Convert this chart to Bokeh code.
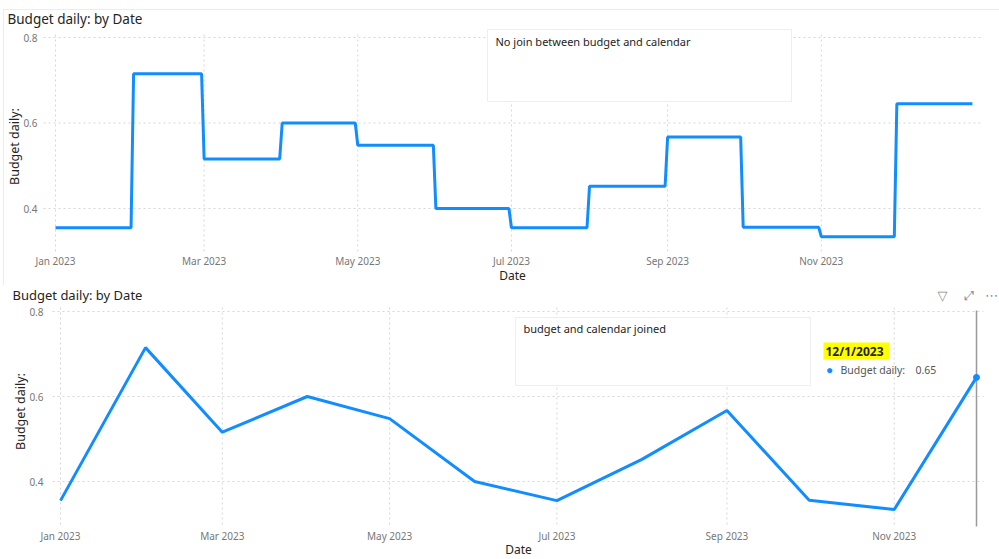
import math
import pandas as pd
from bokeh.plotting import figure
from bokeh.models import (Range1d, FixedTicker, DatetimeTickFormatter, Label,
                          BoxAnnotation, ColumnDataSource)
from bokeh.layouts import column
from bokeh.embed import file_html
from bokeh.resources import INLINE

# ---------------- data ----------------
month_starts = ["2023-01-01", "2023-02-01", "2023-03-01", "2023-04-01",
                "2023-05-01", "2023-06-01", "2023-07-01", "2023-08-01",
                "2023-09-01", "2023-10-01", "2023-11-01", "2023-12-01"]
budget_daily = [0.355, 0.715, 0.516, 0.600, 0.548, 0.400,
                0.355, 0.452, 0.567, 0.356, 0.334, 0.645]
tick_dates = ["2023-01-01", "2023-03-01", "2023-05-01",
              "2023-07-01", "2023-09-01", "2023-11-01"]
y_ticks = [0.4, 0.6, 0.8]
title_text = "Budget daily: by Date"
x_title = "Date"
y_title = "Budget daily:"
box_top_text = "No join between budget and calendar"
box_bottom_text = "budget and calendar joined"
tooltip_date = "12/1/2023"
tooltip_label = "Budget daily:"
tooltip_value = "0.65"

# daily series (no join): each day carries its month's budget
days = pd.date_range("2023-01-01", "2023-12-31", freq="D")
month_lookup = dict(zip(pd.to_datetime(month_starts).month, budget_daily))
daily_vals = [month_lookup[d.month] for d in days]

DAY = 86400000.0
FONT = "Noto Sans"
BLUE = "#118DFF"
GRID = "#d6d6d6"
W = 999
SPLIT = 285


def ms(s):
    return pd.Timestamp(s).value / 1e6


JAN1 = ms("2023-01-01")
tick_ms = [ms(t) for t in tick_dates]


def make_fig(fx, fy, top, bottom):
    p = figure(width=W, height=bottom - top, x_axis_type="datetime",
               x_range=Range1d(fx(0), fx(W)), y_range=Range1d(fy(bottom), fy(top)),
               output_backend="svg", toolbar_location=None,
               min_border_left=0, min_border_right=0, min_border_top=0,
               min_border_bottom=0)
    p.outline_line_color = None
    p.background_fill_color = "white"
    p.border_fill_color = "white"
    p.xgrid.visible = False
    p.ygrid.visible = False
    for ax in (p.xaxis, p.yaxis):
        ax.axis_line_color = None
        ax.major_tick_line_color = None
        ax.minor_tick_line_color = None
        ax.major_tick_out = 0
        ax.minor_tick_out = 0
        ax.major_tick_in = 0
        ax.minor_tick_in = 0
        ax.major_label_text_font = FONT
        ax.major_label_text_font_size = "10px"
        ax.major_label_text_color = "#777777"
    p.xaxis.ticker = FixedTicker(ticks=tick_ms)
    fmt = "%b %Y"
    p.xaxis.formatter = DatetimeTickFormatter(
        milliseconds=fmt, seconds=fmt, minsec=fmt, minutes=fmt, hourmin=fmt,
        hours=fmt, days=fmt, months=fmt, years=fmt)
    p.yaxis.ticker = FixedTicker(ticks=y_ticks)
    return p


def add_grid(p, fx, fy, left, right, gtop, gbottom):
    p.segment(x0=[fx(left)] * len(y_ticks), x1=[fx(right)] * len(y_ticks),
              y0=y_ticks, y1=y_ticks, line_color=GRID, line_dash="2 3", line_width=1)
    p.segment(x0=tick_ms, x1=tick_ms, y0=[fy(gbottom)] * len(tick_ms),
              y1=[fy(gtop)] * len(tick_ms), line_color=GRID, line_dash="2 3",
              line_width=1)


def add_text(p, x, y, text, size, color="#252423", style="normal", align="left",
             baseline="middle", angle=0.0, font=FONT, **kw):
    p.add_layout(Label(x=x, y=y, text=text, text_font=font, text_font_size=size,
                       text_color=color, text_font_style=style, text_align=align,
                       text_baseline=baseline, angle=angle, **kw))


# ---------------- top chart (page y 0..SPLIT) ----------------
def tx(px):
    return JAN1 + (px - 55) / 2.519 * DAY


def ty(py):
    return 0.8 - (py - 37) / 427.5


p1 = make_fig(tx, ty, 0, SPLIT)
# faint visual container edges
p1.segment(x0=[tx(3)], x1=[tx(999)], y0=[ty(9)], y1=[ty(9)],
           line_color="#ececec", line_width=1)
p1.segment(x0=[tx(3)], x1=[tx(3)], y0=[ty(9)], y1=[ty(SPLIT)],
           line_color="#ececec", line_width=1)
add_grid(p1, tx, ty, 43, 981, 34, 251)
p1.xaxis.fixed_location = ty(243)
p1.xaxis.major_label_standoff = 10
p1.yaxis.fixed_location = tx(43)
p1.yaxis.major_label_standoff = 6

src1 = ColumnDataSource(dict(x=days, y=daily_vals))
p1.line("x", "y", source=src1, line_color=BLUE, line_width=3)

add_text(p1, tx(7), ty(18), title_text, "13.5px")
add_text(p1, tx(512), ty(275), x_title, "12px", align="center")
add_text(p1, tx(14), ty(146), y_title, "12.5px", align="center", angle=math.pi / 2)

p1.add_layout(BoxAnnotation(left=tx(487), right=tx(791), top=ty(29), bottom=ty(101),
                            fill_color="white", fill_alpha=1.0,
                            line_color="#c8c8c8", line_width=1))
add_text(p1, tx(495), ty(41), box_top_text, "11px")


# ---------------- bottom chart (page y SPLIT..559) ----------------
def bx(px):
    return JAN1 + (px - 60) / 2.7425 * DAY


def by(py):
    return 0.8 - (py - 311) / 425.0


p2 = make_fig(bx, by, SPLIT, 559)
add_grid(p2, bx, by, 52, 983, 306, 524)
p2.xaxis.fixed_location = by(524)
p2.xaxis.major_label_standoff = 4
p2.yaxis.fixed_location = bx(52)
p2.yaxis.major_label_standoff = 9

src2 = ColumnDataSource(dict(x=pd.to_datetime(month_starts), y=budget_daily))
p2.line("x", "y", source=src2, line_color=BLUE, line_width=3)

add_text(p2, bx(12), by(294), title_text, "13px")
add_text(p2, bx(518), by(549), x_title, "12px", align="center")
add_text(p2, bx(20), by(411), y_title, "12.5px", align="center", angle=math.pi / 2)

# hover crosshair and highlighted point at the last month
last_x = [pd.Timestamp(month_starts[-1])]
p2.segment(x0=last_x, x1=last_x, y0=[by(310)], y1=[by(526)],
           line_color="#9a9a9a", line_width=1.5)
p2.scatter(x=last_x, y=[budget_daily[-1]], size=6, fill_color=BLUE, line_color=BLUE)

p2.add_layout(BoxAnnotation(left=bx(515), right=bx(810), top=by(317), bottom=by(385),
                            fill_color="white", fill_alpha=1.0,
                            line_color="#c8c8c8", line_width=1))
add_text(p2, bx(523), by(328), box_bottom_text, "11px")

# tooltip
p2.add_layout(BoxAnnotation(left=bx(823), right=bx(889), top=by(342), bottom=by(359),
                            fill_color="#ffff00", fill_alpha=1.0, line_color=None))
add_text(p2, bx(825), by(351), tooltip_date, "12px", style="bold")
add_text(p2, bx(829), by(369), "\u25CF", "12px", color=BLUE, align="center")
add_text(p2, bx(840), by(369), tooltip_label, "10.5px", color="#555555")
add_text(p2, bx(915), by(369), tooltip_value, "10.5px", color="#555555")

# header icons
add_text(p2, bx(942), by(295), "\u25BD", "13px", color="#8a8a8a", align="center",
         font="DejaVu Sans")
add_text(p2, bx(968), by(295), "\u2922", "13px", color="#8a8a8a", align="center",
         font="DejaVu Sans")
add_text(p2, bx(991), by(295), "\u22EF", "13px", color="#8a8a8a", align="center",
         font="DejaVu Sans")

layout = column(p1, p2, spacing=0)
open("out.html", "w").write(file_html(layout, INLINE))
